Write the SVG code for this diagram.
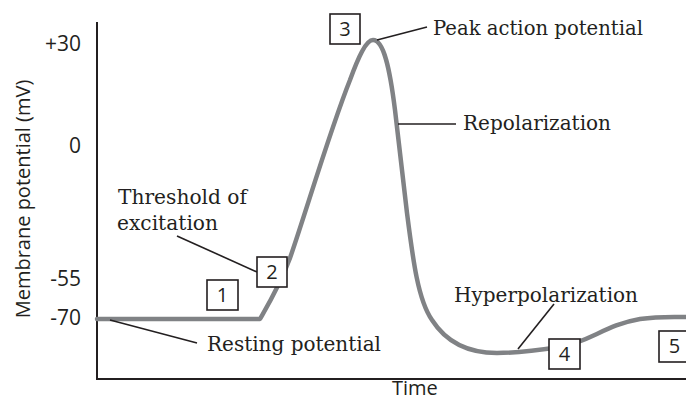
<svg xmlns="http://www.w3.org/2000/svg" width="686" height="401" viewBox="0 0 686 401">
<style>
.axis{stroke:#231f20;stroke-width:2;fill:none}
.curve{stroke:#808285;stroke-width:4.5;fill:none;stroke-linejoin:round;stroke-linecap:round}
.lead{stroke:#231f20;stroke-width:1.6;fill:none}
.box{fill:#fff;stroke:#231f20;stroke-width:1.6}
.sans{font-family:"Open Sans","Liberation Sans",sans-serif;font-size:20px;fill:#231f20}
.tick{font-family:"Open Sans","Liberation Sans",sans-serif;font-size:21px;fill:#231f20;text-anchor:end}
.num{font-family:"Open Sans","Liberation Sans",sans-serif;font-size:20px;fill:#231f20;text-anchor:middle}
.lbl{font-family:"DejaVu Serif","Liberation Serif",serif;font-size:20px;fill:#231f20}
</style>
<g id="axes">
<path class="axis" d="M97,22 V379 H686"/>
<text class="tick" x="81" y="51">+30</text>
<text class="tick" x="81" y="153">0</text>
<text class="tick" x="81" y="286">-55</text>
<text class="tick" x="81" y="325">-70</text>
<text class="sans" transform="translate(30,199) rotate(-90)" text-anchor="middle">Membrane potential (mV)</text>
<text class="sans" x="392" y="395">Time</text>
</g>
<g id="curve">
<path class="curve" d="M97,319 L260,319 C268,305 280,285 290,258 C305,215 330,130 350,80 C358,58 366,40 373,40 C384,40 390,70 395,110 L407,213 C413,260 418,300 432,320 C448,345 472,353 497,353 C520,353 540,350 560,347 C590,342 605,325 640,319 C660,316 675,317 688,317"/>
</g>
<g id="connectors">
<line class="lead" x1="377" y1="40" x2="427" y2="27"/>
<line class="lead" x1="398" y1="124" x2="456" y2="124"/>
<line class="lead" x1="177" y1="236" x2="257" y2="272"/>
<line class="lead" x1="110" y1="320" x2="197" y2="343"/>
<line class="lead" x1="518" y1="349" x2="554" y2="304"/>
</g>
<g id="label-peak"><text class="lbl" x="433" y="35" textLength="210" lengthAdjust="spacingAndGlyphs">Peak action potential</text></g>
<g id="label-repolarization"><text class="lbl" x="463" y="130" textLength="148" lengthAdjust="spacingAndGlyphs">Repolarization</text></g>
<g id="label-threshold"><text class="lbl" x="118" y="204" textLength="129" lengthAdjust="spacingAndGlyphs">Threshold of</text><text class="lbl" x="117" y="230" textLength="101" lengthAdjust="spacingAndGlyphs">excitation</text></g>
<g id="label-resting"><text class="lbl" x="207" y="351" textLength="174" lengthAdjust="spacingAndGlyphs">Resting potential</text></g>
<g id="label-hyper"><text class="lbl" x="454" y="302" textLength="184" lengthAdjust="spacingAndGlyphs">Hyperpolarization</text></g>
<g id="box1"><rect class="box" x="207" y="280" width="31" height="30"/><text class="num" x="222.5" y="302">1</text></g>
<g id="box2"><rect class="box" x="257" y="257" width="30" height="30"/><text class="num" x="272" y="279">2</text></g>
<g id="box3"><rect class="box" x="330" y="14" width="30" height="30"/><text class="num" x="345" y="36">3</text></g>
<g id="box4"><rect class="box" x="549" y="339" width="31" height="30"/><text class="num" x="564.5" y="361">4</text></g>
<g id="box5"><rect class="box" x="659" y="331" width="31" height="31"/><text class="num" x="674.5" y="353">5</text></g>
</svg>
